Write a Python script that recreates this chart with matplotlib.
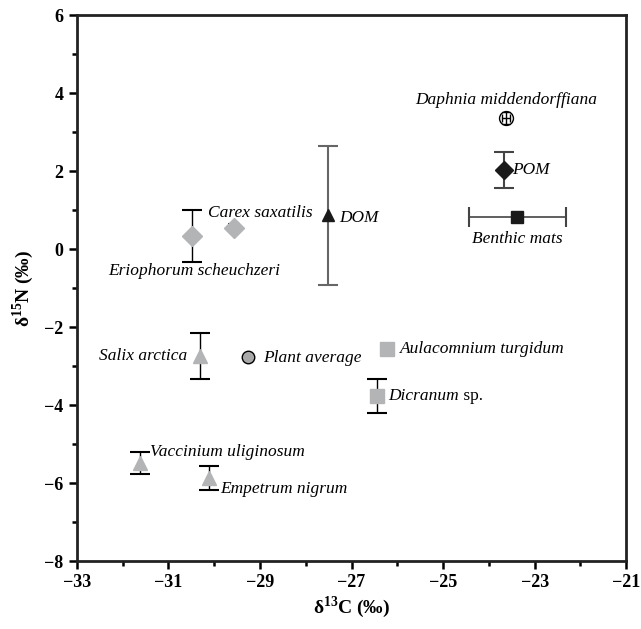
import numpy as np
import matplotlib
matplotlib.use('Agg')
import matplotlib.pyplot as plt
from matplotlib.ticker import MultipleLocator

plt.rcParams['font.family'] = ['Liberation Serif', 'DejaVu Serif']
plt.rcParams['mathtext.fontset'] = 'custom'
plt.rcParams['mathtext.rm'] = 'Liberation Serif:bold'

# plant data (grey symbols)
plant_names = ['Eriophorum scheuchzeri', 'Carex saxatilis', 'Salix arctica',
               'Vaccinium uliginosum', 'Empetrum nigrum',
               'Aulacomnium turgidum', 'Dicranum']
plant_x = [-30.49, -29.57, -30.31, -31.62, -30.11, -26.22, -26.44]
plant_y = [0.33, 0.54, -2.74, -5.49, -5.87, -2.55, -3.77]
plant_yerr = [0.67, 0.10, 0.58, 0.28, 0.31, 0.0, 0.43]
plant_marker = ['D', 'D', '^', '^', '^', 's', 's']

avg_x, avg_y = -29.26, -2.77

# aquatic data
dom_x, dom_y, dom_yerr = -27.51, 0.87, 1.78
pom_x, pom_y, pom_yerr = -23.67, 2.03, 0.46
mats_x, mats_y, mats_xerr = -23.38, 0.82, 1.06
daph_x, daph_y, daph_err = -23.62, 3.36, 0.09

grey = '#b3b4b6'
dark = '#1a1a1a'

fig = plt.figure(figsize=(6.41, 6.29), dpi=100)
ax = fig.add_axes([0.120, 0.108, 0.857, 0.868])

for i in range(len(plant_x)):
    if plant_yerr[i] > 0:
        cap = 4 if plant_yerr[i] < 0.2 else 7
        ax.errorbar(plant_x[i], plant_y[i], yerr=plant_yerr[i], fmt='none',
                    ecolor='black', elinewidth=1, capsize=cap, capthick=1.5)
    ax.plot(plant_x[i], plant_y[i], marker=plant_marker[i], ms=10,
            color=grey, mec=grey, ls='none', zorder=3)

ax.plot(avg_x, avg_y, 'o', ms=9, mfc='#a8a8a8', mec='black', mew=1, zorder=3)

ax.errorbar(dom_x, dom_y, yerr=dom_yerr, fmt='^', ms=9, color=dark,
            ecolor='#666666', elinewidth=1.5, capsize=7, capthick=1.5)
ax.errorbar(pom_x, pom_y, yerr=pom_yerr, fmt='D', ms=9, color=dark,
            ecolor='#444444', elinewidth=1.5, capsize=7, capthick=1.5)
ax.errorbar(mats_x, mats_y, xerr=mats_xerr, fmt='s', ms=9, color=dark,
            ecolor='#444444', elinewidth=1.2, capsize=7, capthick=1.5)
ax.plot(daph_x, daph_y, 'o', ms=10, mfc='white', mec='black', mew=1, zorder=3)
ax.errorbar(daph_x, daph_y, xerr=daph_err, yerr=daph_err * 1.7, fmt='none',
            ecolor='black', elinewidth=1, capsize=3, capthick=1, zorder=4)

# labels (offsets in points)
fs = 12.5
lab = dict(fontsize=fs, style='italic', textcoords='offset points')
ax.annotate('Daphnia middendorffiana', (daph_x, daph_y), xytext=(0, 13),
            ha='center', va='center', **lab)
ax.annotate('POM', (pom_x, pom_y), xytext=(6, 0), ha='left', va='center', **lab)
ax.annotate('Benthic mats', (mats_x, mats_y), xytext=(0, -16),
            ha='center', va='center', **lab)
ax.annotate('DOM', (dom_x, dom_y), xytext=(8, -2), ha='left', va='center', **lab)

plant_off = [(2, -25), (19, 11), (-9, 0), (7, 8), (8, -8), (9, 0), (8, 0)]
plant_ha = ['center', 'center', 'right', 'left', 'left', 'left', 'left']
texts = []
for i in range(len(plant_x)):
    t = ax.annotate(plant_names[i], (plant_x[i], plant_y[i]), xytext=plant_off[i],
                    ha=plant_ha[i], va='center', **lab)
    texts.append(t)
ax.annotate('Plant average', (avg_x, avg_y), xytext=(11, -1),
            ha='left', va='center', **lab)

ax.set_xlim(-33, -21)
ax.set_ylim(-8, 6)
ax.xaxis.set_major_locator(MultipleLocator(2, offset=1))
ax.xaxis.set_minor_locator(MultipleLocator(1))
ax.yaxis.set_major_locator(MultipleLocator(2))
ax.yaxis.set_minor_locator(MultipleLocator(1))
ax.tick_params(which='major', length=6, width=1.8, labelsize=13)
ax.tick_params(which='minor', length=3.5, width=1.8)
for lbl in ax.get_xticklabels() + ax.get_yticklabels():
    lbl.set_fontweight('bold')
for s in ax.spines.values():
    s.set_linewidth(2)
    s.set_color('#222222')

ax.set_xlabel('δ$^{13}$C (‰)', fontsize=14, fontweight='bold', labelpad=2)
ax.set_ylabel('δ$^{15}$N (‰)', fontsize=14, fontweight='bold', labelpad=6)

# " sp." in upright type right after the italic genus name
fig.canvas.draw()
bb = texts[6].get_window_extent()
x0, y0 = ax.transData.inverted().transform((bb.x1, (bb.y0 + bb.y1) / 2))
ax.text(x0, y0, ' sp.', fontsize=fs, ha='left', va='center')

fig.savefig('out.png', dpi=100)
